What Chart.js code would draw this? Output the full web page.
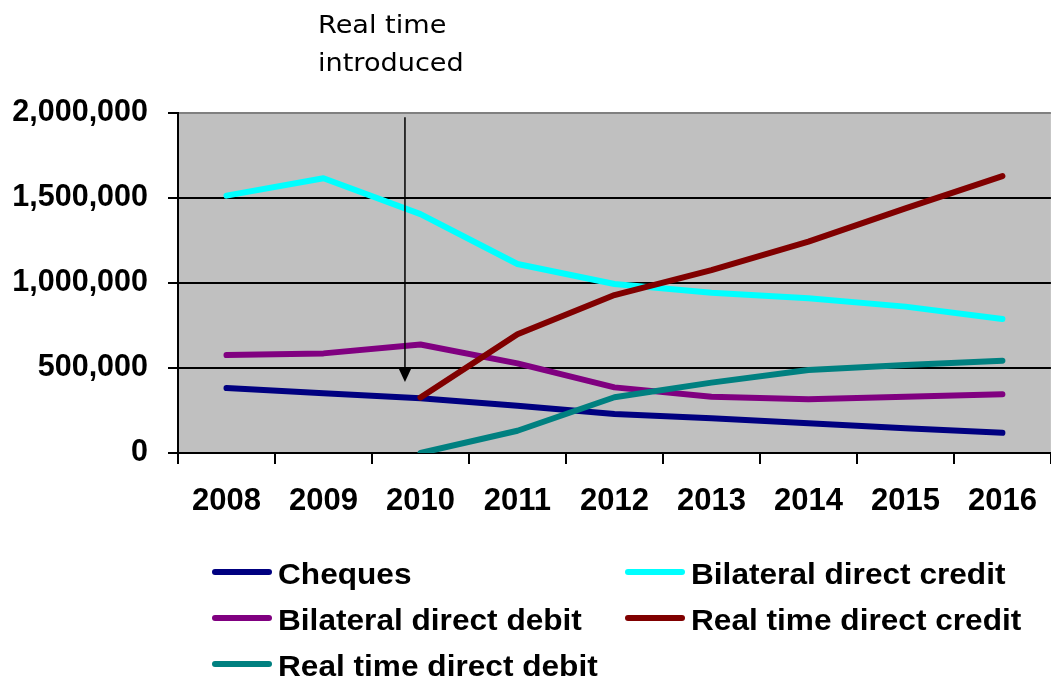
<!DOCTYPE html>
<html>
<head>
<meta charset="utf-8">
<script src="https://cdn.jsdelivr.net/npm/chart.js@4.4.1/dist/chart.umd.min.js"></script>
<style>
  html, body { margin: 0; padding: 0; background: #fff; overflow: hidden; }
  #wrap { position: relative; width: 1056px; height: 682px; }
</style>
</head>
<body>
<div id="wrap"><canvas id="grafico"></canvas></div>
<script>
// años y volúmenes por tipo de pago
const years = ['2008', '2009', '2010', '2011', '2012', '2013', '2014', '2015', '2016'];
const cheques = [382000, 351000, 322000, 278000, 229000, 204000, 175000, 145000, 119000];
const bilateralCredit = [1514000, 1616000, 1405000, 1112000, 994000, 943000, 910000, 861000, 788000];
const bilateralDebit = [576000, 586000, 638000, 527000, 386000, 331000, 316000, 331000, 345000];
const realTimeCredit = [null, null, 327000, 698000, 929000, 1076000, 1243000, 1439000, 1629000];
const realTimeDebit = [null, null, 0, 131000, 328000, 414000, 488000, 518000, 543000];
const yTicks = [0, 500000, 1000000, 1500000, 2000000];

const series = [
  { label: 'Cheques', data: cheques, color: '#000080' },
  { label: 'Bilateral direct credit', data: bilateralCredit, color: '#00FFFF' },
  { label: 'Bilateral direct debit', data: bilateralDebit, color: '#800080' },
  { label: 'Real time direct credit', data: realTimeCredit, color: '#800000' },
  { label: 'Real time direct debit', data: realTimeDebit, color: '#008080' }
];

const familia = 'Arial, "Liberation Sans", sans-serif';

// texto algo ensanchado en horizontal
function textoAncho(ctx, txt, x, y, k) {
  ctx.save();
  ctx.translate(x, y);
  ctx.scale(k, 1);
  ctx.fillText(txt, 0, 0);
  ctx.restore();
}

// fondo gris del área de trazado
const fondoGris = {
  id: 'fondoGris',
  beforeDraw(chart) {
    const { ctx, chartArea: a } = chart;
    ctx.save();
    ctx.fillStyle = '#C0C0C0';
    ctx.fillRect(a.left, a.top, a.right - a.left, a.bottom - a.top);
    ctx.restore();
  }
};

// flecha "Real time introduced" y leyenda en dos columnas
const extras = {
  id: 'extras',
  afterDraw(chart) {
    const { ctx, scales } = chart;
    const x = scales.x.getPixelForValue(1.84);
    const y0 = scales.y.getPixelForValue(1975000);
    const y1 = scales.y.getPixelForValue(418000);
    ctx.save();
    ctx.strokeStyle = '#000';
    ctx.fillStyle = '#000';
    ctx.lineWidth = 1.5;
    ctx.beginPath();
    ctx.moveTo(x, y0);
    ctx.lineTo(x, y1 - 12);
    ctx.stroke();
    ctx.beginPath();
    ctx.moveTo(x - 7, y1 - 15);
    ctx.lineTo(x + 7, y1 - 15);
    ctx.lineTo(x, y1);
    ctx.closePath();
    ctx.fill();

    ctx.font = '25px "DejaVu Sans", Verdana, sans-serif';
    ctx.textAlign = 'left';
    ctx.textBaseline = 'alphabetic';
    textoAncho(ctx, 'Real time', 318, 33, 1.085);
    textoAncho(ctx, 'introduced', 318, 71, 1.085);

    // leyenda
    const cols = [212, 625];
    const rows = [574, 620, 666];
    ctx.font = 'bold 29px ' + familia;
    ctx.textBaseline = 'middle';
    chart.data.datasets.forEach((ds, i) => {
      const cx = cols[i % 2];
      const cy = rows[Math.floor(i / 2)];
      ctx.strokeStyle = ds.borderColor;
      ctx.lineWidth = 6;
      ctx.lineCap = 'round';
      ctx.beginPath();
      ctx.moveTo(cx + 3, cy - 2);
      ctx.lineTo(cx + 57, cy - 2);
      ctx.stroke();
      ctx.fillStyle = '#000';
      textoAncho(ctx, ds.label, cx + 66, cy + 2, 1.09);
    });
    ctx.restore();
  }
};

new Chart(document.getElementById('grafico'), {
  type: 'line',
  data: {
    labels: years,
    datasets: series.map((s, i) => ({
      label: s.label,
      data: s.data,
      borderColor: s.color,
      backgroundColor: s.color,
      borderWidth: 6,
      borderCapStyle: 'round',
      borderJoinStyle: 'round',
      pointRadius: 0,
      tension: 0,
      spanGaps: false,
      order: series.length - i
    }))
  },
  options: {
    responsive: true,
    maintainAspectRatio: false,
    animation: false,
    layout: { padding: { top: 113, right: 2, bottom: 0, left: 0 } },
    plugins: { legend: { display: false }, tooltip: { enabled: false } },
    scales: {
      x: {
        offset: true,
        afterFit: (s) => { s.height = 229; },
        grid: {
          offset: true,
          drawOnChartArea: false,
          drawTicks: true,
          tickLength: 11,
          color: '#000',
          lineWidth: 2
        },
        border: { color: '#000', width: 2 },
        ticks: { color: '#000', font: { family: familia, size: 31, weight: 'bold' }, padding: 19, maxRotation: 0, autoSkip: false }
      },
      y: {
        min: 0,
        max: 2000000,
        afterFit: (s) => { s.width = 178; },
        afterBuildTicks: (s) => { s.ticks = yTicks.map(v => ({ value: v })); },
        grid: {
          color: (c) => c.tick && c.tick.value === 2000000 ? '#808080' : '#000',
          lineWidth: 2,
          tickLength: 10,
          tickColor: '#000'
        },
        border: { color: '#000', width: 2 },
        ticks: {
          color: '#000',
          font: { family: familia, size: 30.5, weight: 'bold' },
          padding: 20,
          callback: (v) => Number(v).toLocaleString('en-US')
        }
      }
    }
  },
  plugins: [fondoGris, extras]
});
</script>
</body>
</html>
